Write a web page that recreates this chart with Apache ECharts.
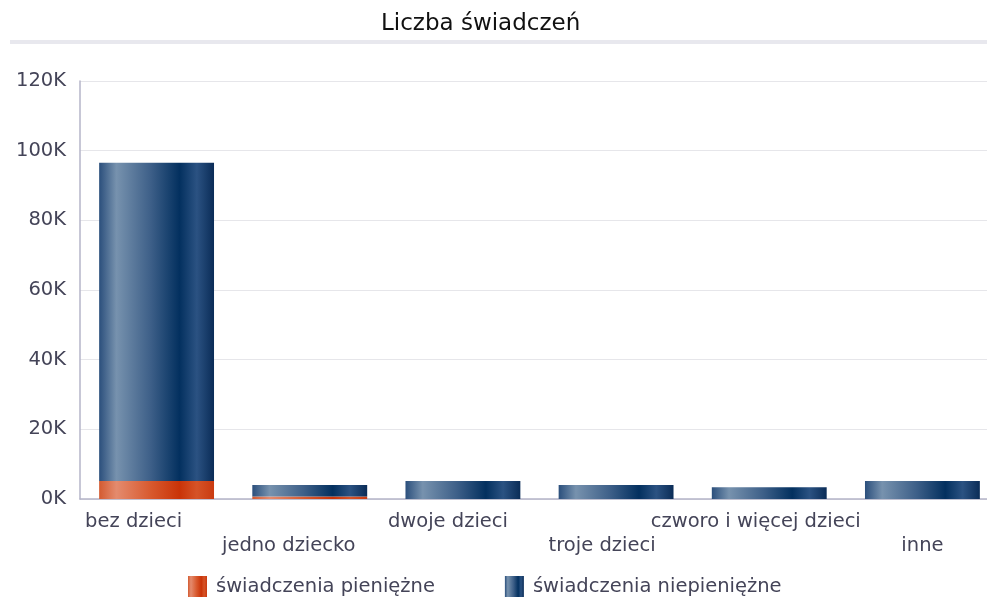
<!DOCTYPE html>
<html>
<head>
<meta charset="utf-8">
<script src="https://cdn.jsdelivr.net/npm/echarts@6/dist/echarts.min.js"></script>
<style>
  html, body { margin: 0; padding: 0; background: #fff; }
  #chart { width: 987px; height: 602px; }
</style>
</head>
<body>
<div id="chart"></div>
<script>
// dane
const categories = ['bez dzieci', 'jedno dziecko', 'dwoje dzieci', 'troje dzieci', 'czworo i więcej dzieci', 'inne'];
const pieniezne = [5200, 700, 0, 0, 0, 0];
const niepieniezne = [91300, 3300, 5200, 4000, 3400, 5200];
const seriesNames = ['świadczenia pieniężne', 'świadczenia niepieniężne'];

const grad = (c) => new echarts.graphic.LinearGradient(0, 0, 1, 0, [
  { offset: 0, color: c[0] },
  { offset: 0.15, color: c[1] },
  { offset: 0.45, color: c[2] },
  { offset: 0.7, color: c[3] },
  { offset: 0.85, color: c[4] },
  { offset: 1, color: c[5] }
]);
const redGrad = grad(['#d35a30', '#e48b6e', '#d8592e', '#c93308', '#d55327', '#c93a10']);
const blueGrad = grad(['#2b4f7c', '#7792ae', '#3d5f88', '#03305f', '#2b5282', '#0a2c57']);

// etykiety osi X lekko przesunięte w lewo jak w oryginale
const labelPad = [46, 42, 30, 28, 27, 0];
const rich = {};
labelPad.forEach((p, i) => { rich['r' + i] = { padding: [0, p, 0, 0] }; });

const chart = echarts.init(document.getElementById('chart'));
chart.setOption({
  animation: false,
  textStyle: { fontFamily: 'DejaVu Sans' },
  title: {
    text: 'Liczba świadczeń',
    left: 376,
    top: 8,
    textStyle: { fontSize: 23, fontWeight: 'normal', color: '#111' }
  },
  graphic: [{
    type: 'rect',
    shape: { x: 10, y: 40, width: 977, height: 4 },
    style: { fill: '#e8e8ee' }
  }],
  legend: {
    bottom: 0,
    left: 183,
    itemGap: 70,
    itemWidth: 19,
    itemHeight: 21,
    icon: 'rect',
    textStyle: { fontSize: 19.5, color: '#444458', padding: [0, 0, 0, 4] },
    data: seriesNames
  },
  grid: { left: 80, width: 919, top: 81, bottom: 103, outerBoundsMode: 'none' },
  xAxis: {
    type: 'category',
    data: categories,
    axisLine: { lineStyle: { color: '#b4b4c8', width: 1.5 } },
    axisTick: { show: false },
    axisLabel: {
      interval: 0,
      fontSize: 19.5,
      color: '#444458',
      margin: 11,
      lineHeight: 24,
      rich: rich,
      formatter: (v, i) => (i % 2 === 1 ? '\n' : '') + '{r' + i + '|' + v + '}'
    }
  },
  yAxis: {
    type: 'value',
    min: 0,
    max: 120000,
    interval: 20000,
    axisLine: { show: true, lineStyle: { color: '#b4b4c8', width: 1.5 } },
    splitLine: { lineStyle: { color: '#e6e6ea' } },
    axisLabel: {
      fontSize: 19.5,
      color: '#444458',
      margin: 14,
      formatter: (v) => (v / 1000) + 'K'
    }
  },
  series: [
    {
      name: seriesNames[0],
      type: 'bar',
      stack: 'total',
      barWidth: '75%',
      itemStyle: { color: redGrad },
      data: pieniezne
    },
    {
      name: seriesNames[1],
      type: 'bar',
      stack: 'total',
      barWidth: '75%',
      itemStyle: { color: blueGrad },
      data: niepieniezne
    }
  ]
});
</script>
</body>
</html>
